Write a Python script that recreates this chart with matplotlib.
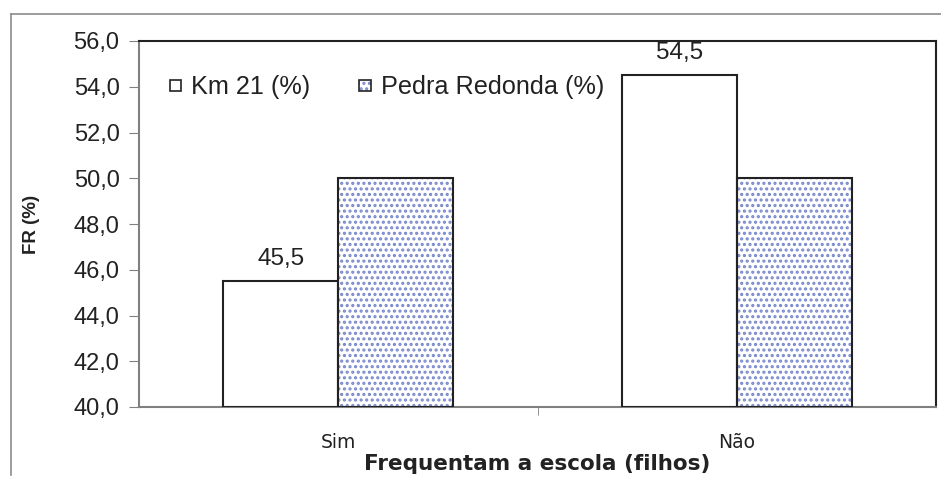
import matplotlib
matplotlib.use("Agg")
from matplotlib import pyplot as plt
from matplotlib.lines import Line2D
from matplotlib.patches import Patch
from matplotlib.legend_handler import HandlerTuple

# dados do grafico
categorias = ["Sim", "Não"]
km21 = [45.5, 54.5]
pedra_redonda = [50.0, 50.0]
serie_nomes = ["Km 21 (%)", "Pedra Redonda (%)"]
yticks = [40, 42, 44, 46, 48, 50, 52, 54, 56]

plt.rcParams['font.family'] = ['Liberation Sans', 'DejaVu Sans']
plt.rcParams['hatch.linewidth'] = 1.5

fig = plt.figure(figsize=(9.41, 4.78), dpi=100)
ax = fig.add_axes([139/941, 71/478, 797/941, 366/478])

# moldura externa (so topo e esquerda aparecem)
fig.add_artist(Line2D([11/941, 1.0], [1-14/478, 1-14/478], color='#8c8c8c', lw=1.2))
fig.add_artist(Line2D([11/941, 11/941], [1-14/478, 3/478], color='#8c8c8c', lw=1.2))

x = range(len(categorias))
w = 0.289
pos_km = [i - w/2 for i in x]
pos_pr = [i + w/2 for i in x]
cor_pontos = '#7888cc'

barras_km = ax.bar(pos_km, [v - 40 for v in km21], bottom=40, width=w,
                   facecolor='white', edgecolor='#222222', lw=1.5, zorder=3)
ax.bar(pos_pr, [v - 40 for v in pedra_redonda], bottom=40, width=w,
       facecolor='white', edgecolor=cor_pontos, hatch='...', lw=0, zorder=2)
ax.bar(pos_pr, [v - 40 for v in pedra_redonda], bottom=40, width=w,
       fill=False, edgecolor='#222222', lw=1.5, zorder=3)

ax.bar_label(barras_km, labels=[f"{v:.1f}".replace('.', ',') for v in km21],
             padding=8, fontsize=17.5, color='#222222')

ax.set_xlim(-0.5, 1.5)
ax.set_ylim(40, 56)
ax.set_yticks(yticks)
ax.set_yticklabels([f"{v:.1f}".replace('.', ',') for v in yticks], fontsize=17, color='#222222')
ax.tick_params(axis='y', length=7, color='#808080', pad=7)

ax.set_xticks(list(x))
ax.set_xticklabels(categorias, fontsize=13.5, family='DejaVu Sans', color='#222222')
ax.tick_params(axis='x', which='major', length=0, pad=19)
ax.set_xticks([0.5], minor=True)
ax.tick_params(axis='x', which='minor', length=6, color='#808080')

ax.set_xlabel("Frequentam a escola (filhos)", fontsize=15.5, fontweight='bold',
              family='DejaVu Sans', color='#222222', labelpad=1)
ax.set_ylabel("FR (%)", fontsize=13.5, fontweight='bold', color='#222222', labelpad=24)

for lado in ['left', 'bottom']:
    ax.spines[lado].set_color('#808080')
    ax.spines[lado].set_linewidth(1.5)
for lado in ['top', 'right']:
    ax.spines[lado].set_color('#222222')
    ax.spines[lado].set_linewidth(1.5)

h_km = Patch(facecolor='white', edgecolor='#222222', lw=1.2)
h_pr1 = Patch(facecolor='white', edgecolor=cor_pontos, hatch='...', lw=0)
h_pr2 = Patch(fill=False, edgecolor='#222222', lw=1.2)
ax.legend([h_km, (h_pr1, h_pr2)], serie_nomes, handler_map={tuple: HandlerTuple(ndivide=1)},
          loc='upper left', bbox_to_anchor=(0.01, 0.968), ncol=2, frameon=False,
          fontsize=18.2, handlelength=0.44, handleheight=0.3, handletextpad=0.4,
          columnspacing=1.95, labelcolor='#222222')

fig.savefig("out.png", dpi=100)
